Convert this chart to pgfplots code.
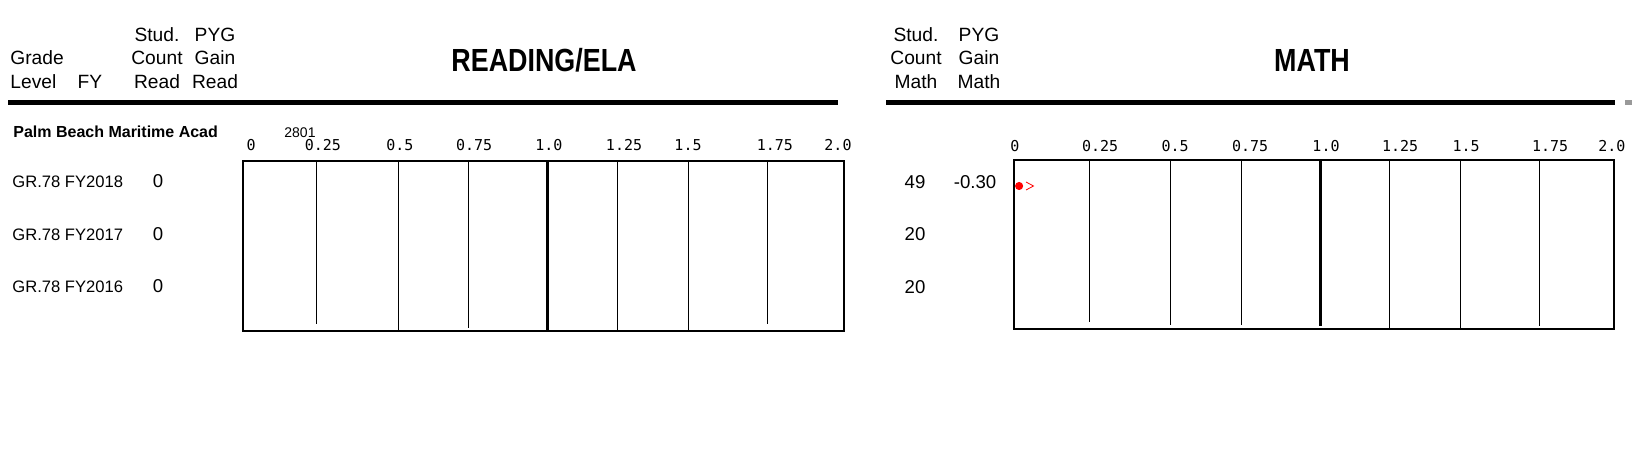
\documentclass[border=0pt]{standalone}
\usepackage{pgfplots}
\pgfplotsset{compat=1.18}
\usepackage{graphicx}
\usepackage{fontspec}
\setmainfont{Liberation Sans}
\setmonofont{DejaVu Sans Mono}
\newcommand\fs[1]{\fontsize{#1}{#1}\selectfont}

\pgfplotsset{
  pygbox/.style={
    scale only axis, anchor=south west,
    xmin=0, xmax=2,
    ytick=\empty,
    xticklabel pos=upper,
    major tick length=0pt,
    xticklabels={0,0.25,0.5,0.75,1.0,1.25,1.5,1.75,2.0},
    xticklabel style={font=\ttfamily\fs{7.5}, inner sep=0pt, anchor=south},
    axis line style={line width=0.8pt},
    clip=false,
  },
  pygline/.style={black, line width=0.5pt, mark=none, forget plot},
  pygthick/.style={black, line width=1.5pt, mark=none, forget plot},
}

\begin{document}
\begin{tikzpicture}
\useasboundingbox (0,0) rectangle (816pt,236pt);

% ---------- text and rules (pixel coordinates, y downwards) ----------
\begin{scope}[x=0.5pt, y=-0.5pt, yshift=236pt]
  \draw[line width=2.5pt] (8,102.5) -- (838,102.5);
  \draw[line width=2.5pt] (886,102.5) -- (1615,102.5);
  \draw[line width=2.5pt, black!40] (1625,102.5) -- (1632,102.5);

  \begin{scope}[every node/.style={inner sep=0pt, font=\fs{9.6}}]
    \node[anchor=base west] at (10,65) {Grade};
    \node[anchor=base west] at (10,89) {Level};
    \node[anchor=base] at (90,89) {FY};
    \node[anchor=base] at (157,42) {Stud.};
    \node[anchor=base] at (157,65) {Count};
    \node[anchor=base] at (157,89) {Read};
    \node[anchor=base] at (215,42) {PYG};
    \node[anchor=base] at (215,65) {Gain};
    \node[anchor=base] at (215,89) {Read};
    \node[anchor=base] at (916,42) {Stud.};
    \node[anchor=base] at (916,65) {Count};
    \node[anchor=base] at (916,89) {Math};
    \node[anchor=base] at (979,42) {PYG};
    \node[anchor=base] at (979,65) {Gain};
    \node[anchor=base] at (979,89) {Math};
  \end{scope}

  \node[anchor=base, inner sep=0pt] at (544,72) {\scalebox{0.84}[1]{\bfseries\fs{16}READING/ELA}};
  \node[anchor=base, inner sep=0pt] at (1312,72) {\scalebox{0.84}[1]{\bfseries\fs{16}MATH}};

  \node[anchor=base west, inner sep=0pt, font=\bfseries\fs{8}] at (13,138) {Palm Beach Maritime Acad};
  \node[anchor=base, inner sep=0pt, font=\fs{7}] at (300,138) {2801};

  \begin{scope}[every node/.style={inner sep=0pt, font=\fs{8.3}, anchor=base west}]
    \node at (12,187) {GR.78 FY2018};
    \node at (12,240) {GR.78 FY2017};
    \node at (12,292) {GR.78 FY2016};
  \end{scope}
  \begin{scope}[every node/.style={inner sep=0pt, font=\fs{9.3}, anchor=base}]
    \node at (158,187) {0};
    \node at (158,240) {0};
    \node at (158,292) {0};
    \node at (915,188) {49};
    \node at (915,240) {20};
    \node at (915,293) {20};
    \node at (975,188) {-0.30};
  \end{scope}
\end{scope}

% ---------- READING/ELA box ----------
\begin{axis}[pygbox,
  at={(121.5pt,70.5pt)}, width=300.5pt, height=85pt,
  ymin=141, ymax=311,
  xtick={0.027,0.266,0.522,0.769,1.018,1.268,1.481,1.770,1.980},
  xticklabel style={yshift=5pt},
]
  \addplot[pygline]  coordinates {(0.246,311) (0.246,148)};
  \addplot[pygline]  coordinates {(0.516,311) (0.516,141)};
  \addplot[pygline]  coordinates {(0.749,311) (0.749,144)};
  \addplot[pygthick] coordinates {(1.012,311) (1.012,141)};
  \addplot[pygline]  coordinates {(1.245,311) (1.245,141)};
  \addplot[pygline]  coordinates {(1.481,311) (1.481,141)};
  \addplot[pygline]  coordinates {(1.744,311) (1.744,148)};
\end{axis}

% ---------- MATH box ----------
\begin{axis}[pygbox,
  at={(507pt,71.5pt)}, width=300pt, height=84.5pt,
  ymin=143, ymax=312,
  xtick={0.003,0.287,0.537,0.787,1.04,1.287,1.507,1.787,1.993},
  xticklabel style={yshift=4pt},
]
  \addplot[pygline]  coordinates {(0.25,312) (0.25,150)};
  \addplot[pygline]  coordinates {(0.523,312) (0.523,147)};
  \addplot[pygline]  coordinates {(0.757,312) (0.757,147)};
  \addplot[pygthick] coordinates {(1.02,312) (1.02,146)};
  \addplot[pygline]  coordinates {(1.253,312) (1.253,144)};
  \addplot[pygline]  coordinates {(1.487,312) (1.487,143)};
  \addplot[pygline]  coordinates {(1.75,312) (1.75,146)};
  % PYG gain -0.30 (off scale, shown at left edge)
  \addplot[only marks, mark=*, mark size=1.8pt, red, mark options={draw=red, fill=red}] coordinates {(0.017,286)};
  \addplot[red, line width=0.4pt, mark=none] coordinates {(0.04,290) (0.065,286) (0.04,282)};
\end{axis}
\end{tikzpicture}
\end{document}
